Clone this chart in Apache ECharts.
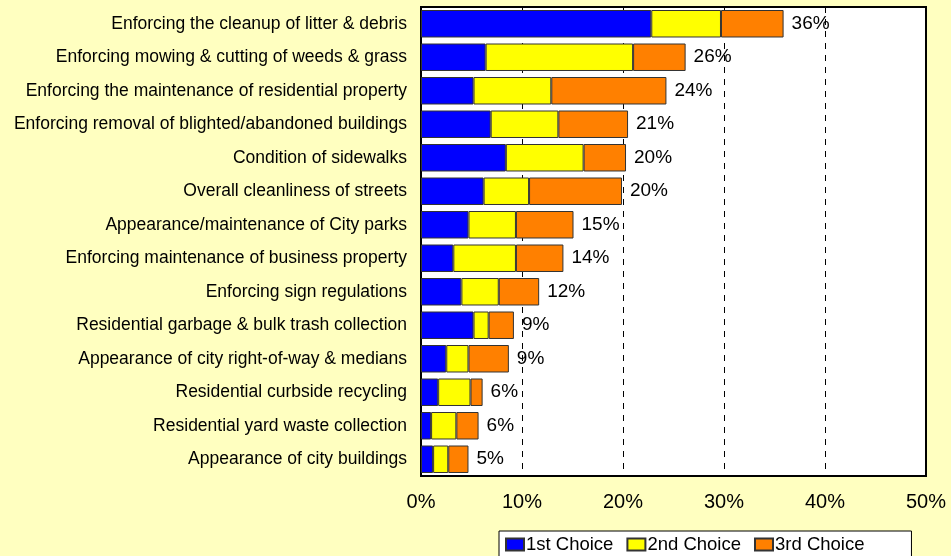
<!DOCTYPE html>
<html>
<head>
<meta charset="utf-8">
<script src="https://cdn.jsdelivr.net/npm/echarts@6/dist/echarts.min.js"></script>
<style>
html, body { margin: 0; padding: 0; background: #FFFFC0; }
#chart { width: 951px; height: 556px; }
</style>
</head>
<body>
<div id="chart"></div>
<script>
var categories = [
    'Enforcing the cleanup of litter & debris',
    'Enforcing mowing & cutting of weeds & grass',
    'Enforcing the maintenance of residential property',
    'Enforcing removal of blighted/abandoned buildings',
    'Condition of sidewalks',
    'Overall cleanliness of streets',
    'Appearance/maintenance of City parks',
    'Enforcing maintenance of business property',
    'Enforcing sign regulations',
    'Residential garbage & bulk trash collection',
    'Appearance of city right-of-way & medians',
    'Residential curbside recycling',
    'Residential yard waste collection',
    'Appearance of city buildings'
];
var firstChoice = [22.8, 6.4, 5.2, 6.9, 8.4, 6.2, 4.7, 3.2, 4.0, 5.2, 2.5, 1.7, 1.0, 1.2];
var secondChoice = [6.9, 14.6, 7.7, 6.7, 7.7, 4.5, 4.7, 6.2, 3.7, 1.5, 2.2, 3.2, 2.5, 1.5];
var thirdChoice = [6.2, 5.2, 11.4, 6.9, 4.2, 9.2, 5.7, 4.7, 4.0, 2.5, 4.0, 1.2, 2.2, 2.0];
var totals = [36, 26, 24, 21, 20, 20, 15, 14, 12, 9, 9, 6, 6, 5];
var xTicks = [0, 10, 20, 30, 40, 50];

var font = 'Arial, "Liberation Sans", sans-serif';

function barSeries(name, data, color) {
    return {
        name: name,
        type: 'bar',
        stack: 'all',
        data: data,
        barCategoryGap: '18%',
        itemStyle: { color: color, borderColor: '#333', borderWidth: 1 }
    };
}

var series = [
    barSeries('1st Choice', firstChoice, '#0000FF'),
    barSeries('2nd Choice', secondChoice, '#FFFF00'),
    barSeries('3rd Choice', thirdChoice, '#FF8000')
];
// total labels sit to the right of the last segment
series[2].label = {
    show: true,
    position: 'right',
    distance: 8,
    color: '#000',
    fontFamily: font,
    fontSize: 19,
    formatter: function (p) { return totals[p.dataIndex] + '%'; }
};

var myChart = echarts.init(document.getElementById('chart'));
myChart.setOption({
    backgroundColor: '#FFFFC0',
    animation: false,
    textStyle: { fontFamily: font },
    grid: {
        left: 421, right: 25, top: 7, bottom: 80,
        show: true, backgroundColor: '#fff', borderColor: '#000', borderWidth: 2
    },
    legend: {
        data: ['1st Choice', '2nd Choice', '3rd Choice'],
        left: 499, top: 531,
        backgroundColor: '#fff', borderColor: '#000', borderWidth: 1,
        padding: [4, 47, 4, 6],
        itemWidth: 18, itemHeight: 12, itemGap: 13,
        icon: 'rect',
        textStyle: { fontSize: 18.5, color: '#000', fontFamily: font, padding: [0, 0, 0, -3] }
    },
    xAxis: {
        type: 'value',
        min: xTicks[0], max: xTicks[xTicks.length - 1], interval: 10,
        axisLine: { show: true, lineStyle: { color: '#000', width: 2 } },
        axisTick: { show: false },
        axisLabel: { formatter: '{value}%', fontSize: 20, color: '#000', margin: 16 },
        splitLine: { show: true, lineStyle: { color: '#000', type: [6, 6], width: 1 } }
    },
    yAxis: {
        type: 'category',
        data: categories,
        inverse: true,
        axisLine: { show: true, lineStyle: { color: '#000', width: 2 } },
        axisTick: { show: false },
        axisLabel: { fontSize: 17.5, color: '#000', margin: 14 }
    },
    series: series
});
</script>
</body>
</html>
